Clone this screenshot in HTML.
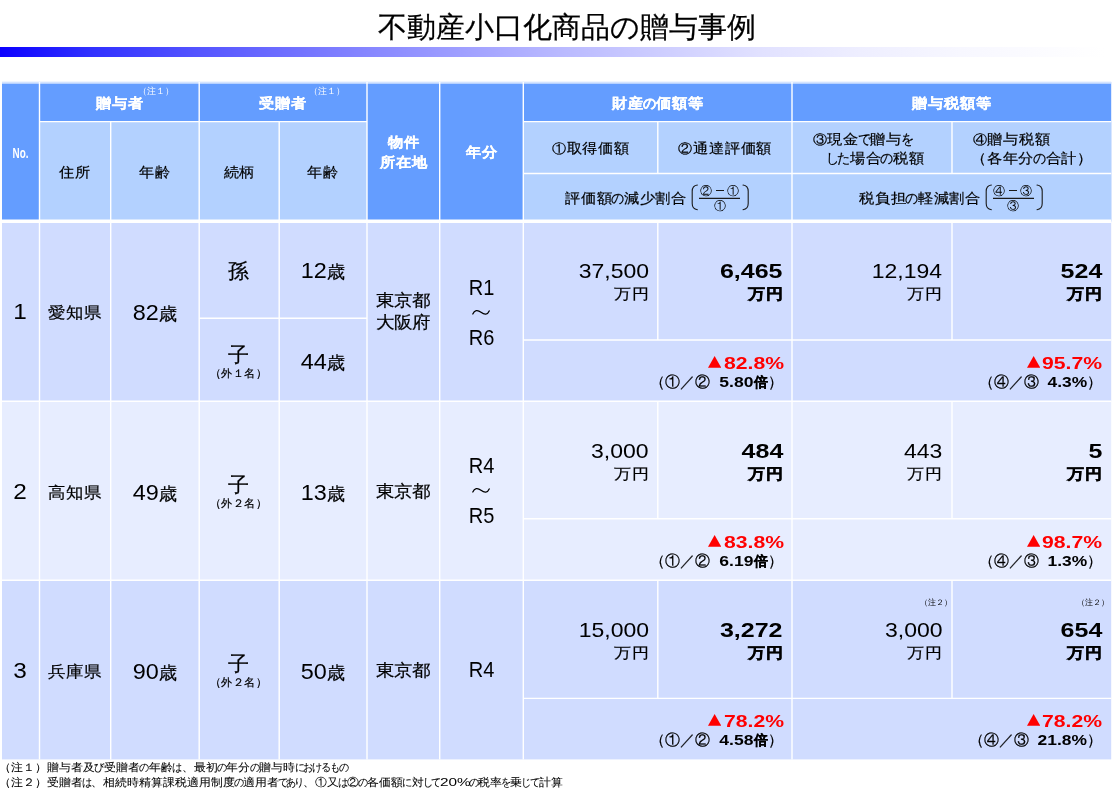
<!DOCTYPE html>
<html lang="ja">
<head>
<meta charset="utf-8">
<title>不動産小口化商品の贈与事例</title>
<style>
html,body{margin:0;padding:0;background:#fff}
body{width:1116px;height:792px;position:relative;overflow:hidden;font-family:"Liberation Sans",sans-serif;color:#000;-webkit-text-stroke:.22px}
#page{position:absolute;left:0;top:0;width:1116px;height:792px;will-change:transform}
#grid{position:absolute;left:0;top:0}
.bar{position:absolute;left:0;top:47px;width:1116px;height:10px;background:linear-gradient(90deg,#0c00ff 0%,#3030ff 8%,#5555ff 17.9%,#8484ff 32.3%,#b9b9ff 50.2%,#e1e1ff 68.1%,#eeeeff 77%,#f7f7ff 86%,#fff 99%)}
.title{position:absolute;left:0;top:9px;width:1134px;text-align:center;font-size:29.35px;line-height:36px;white-space:nowrap}
.c{position:absolute;display:flex;align-items:center;justify-content:center;text-align:center;white-space:nowrap;box-sizing:border-box}
.w{display:block}
.hs .w,.hw .w,.pref .w,.loc .w{transform:scaleY(.92)}
.sx{display:inline-block;-webkit-text-stroke:0}
.hw{padding-top:1.1px;color:#fff;font-weight:bold;font-size:15.5px;line-height:20.65px;-webkit-text-stroke:.22px #fff}
.hs{padding-top:1px;font-size:15.5px;line-height:19.57px;letter-spacing:-.2px}
.hs .k{margin:0 -2.2px}
.cn{display:inline-block;width:15.3px;text-align:center;font-size:14px;letter-spacing:0;vertical-align:.4px}
.k{display:inline-block;transform:scaleX(.86);margin:0 -1.6px}
.sup{-webkit-text-stroke:0;position:absolute;font-size:8.7px;line-height:10px;color:#fff;white-space:nowrap}
.no{font-size:21.3px;padding-top:1.4px;padding-right:1.5px}
.pref{font-size:17.5px}
.age{font-size:21.3px;padding-top:2px}
.age i{font-style:normal;font-size:17.9px}
.rel{font-size:21px;line-height:22px;padding-right:2px}
.rel small{display:block;font-size:10.5px;line-height:14px;letter-spacing:.6px}
.loc{font-size:18px;line-height:23.04px;padding-right:1.6px}
.yr{font-size:21.3px;line-height:24.95px;padding-top:2.4px}
.wv{display:inline-block;vertical-align:4px}
.v{position:absolute;text-align:right;white-space:nowrap;font-size:20.6px;line-height:24px}
.v u{display:block;text-decoration:none;font-size:17.6px;line-height:23px;transform:scaleY(.88);transform-origin:50% 60%;margin-right:-1px;margin-top:-1.2px}
.v.b{font-weight:bold}
.v.b u{-webkit-text-stroke:.45px #000}
.p{-webkit-text-stroke:0;position:absolute;text-align:right;white-space:nowrap;font-size:17.3px;line-height:20px;font-weight:bold;color:#ff0000}
.p .tri{display:inline-block;vertical-align:1.3px;margin-right:2.4px}
.q{position:absolute;text-align:right;white-space:nowrap;font-size:15px;line-height:17px}
.q b{font-size:14.1px;-webkit-text-stroke:.3px #000}
.n2{-webkit-text-stroke:0;position:absolute;text-align:right;font-size:8.2px;line-height:10px;white-space:nowrap}
.fr{position:absolute;width:60px;height:28px}
.fr svg{position:absolute;left:0;top:0}
.fr i{position:absolute;left:0;width:56.2px;text-align:center;font-style:normal;font-size:12px;line-height:13px;white-space:nowrap;-webkit-text-stroke:0}
.fr s{display:inline-block;width:8.1px;height:1.1px;background:#1a1a1a;vertical-align:3.4px;margin:0 3px 0 4px}
.fn{-webkit-text-stroke:.08px;transform:scaleY(.93);transform-origin:0 62%;position:absolute;left:-1px;font-size:11.8px;line-height:15.3px;white-space:nowrap}
.fn .k{margin:0 -1.59px}
.fn2 .k{margin:0 -1.97px}
</style>
</head>
<body>
<div id="page">
<div class="title">不動産小口化商品の贈与事例</div>
<div class="bar"></div>
<svg id="grid" width="1116" height="792" viewBox="0 0 1116 792">
  <rect x="2" y="81.9" width="1109.2" height="139.7" fill="#649dff"/>
  <rect x="39.5" y="121.6" width="327.5" height="100" fill="#b3d1ff"/>
  <rect x="523.3" y="121.6" width="587.9" height="100" fill="#b3d1ff"/>
  <rect x="2" y="221.3" width="1109.2" height="179.7" fill="#d0dcff"/>
  <rect x="2" y="401" width="1109.2" height="179.3" fill="#e7edff"/>
  <rect x="2" y="580.3" width="1109.2" height="179.1" fill="#d0dcff"/>
  <g stroke="#fff" stroke-width="1.4" fill="none">
    <path d="M39.5 82V759.4 M110.7 121.6V759.4 M199.2 82V759.4 M279.2 121.6V759.4 M367 82V759.4 M439.7 82V759.4 M523.3 82V759.4 M792 82V759.4"/>
    <path d="M657.8 121.6V173.5 M657.8 221.3V340 M657.8 401V518.8 M657.8 580.3V698.4"/>
    <path d="M952 121.6V173.5 M952 221.3V340 M952 401V518.8 M952 580.3V698.4"/>
    <path d="M39.5 121.6H367 M523.3 121.6H1111.2 M523.3 173.5H1111.2"/>
    <path d="M199.2 318.2H367 M523.3 340H1111.2 M523.3 518.8H1111.2 M523.3 698.4H1111.2"/>
    <path d="M2 401.3H1111.2 M2 580.3H1111.2"/>
  </g>
  <path d="M2 221.3H1111.2" stroke="#fff" stroke-width="3.4"/>
  <path d="M2 82.85H1111.2" stroke="#fff" stroke-opacity=".72" stroke-width="1.9"/>
</svg>
<!-- header -->
<div class="c hw" style="left:2px;top:84px;width:37px;height:136px;font-size:16.5px;transform:scaleX(.6);padding-top:.6px;-webkit-text-stroke:0"><span class="w">No.</span></div>
<div class="c hw" style="left:40px;top:84px;width:159px;height:37px"><span class="w">贈与者</span></div>
<div class="sup" style="left:138.4px;top:86px">（注１）</div>
<div class="c hw" style="left:200px;top:84px;width:166px;height:37px"><span class="w">受贈者</span></div>
<div class="sup" style="left:308.6px;top:86px">（注１）</div>
<div class="c hs" style="left:40px;top:123px;width:70px;height:97px;padding-top:0.4px"><span class="w">住所</span></div>
<div class="c hs" style="left:111px;top:123px;width:88px;height:97px;padding-top:0.4px"><span class="w">年齢</span></div>
<div class="c hs" style="left:200px;top:123px;width:79px;height:97px;padding-top:0.4px"><span class="w">続柄</span></div>
<div class="c hs" style="left:280px;top:123px;width:86px;height:97px;padding-top:0.4px"><span class="w">年齢</span></div>
<div class="c hw" style="left:368px;top:84px;width:71px;height:136px"><span class="w">物件<br>所在地</span></div>
<div class="c hw" style="left:440px;top:84px;width:83px;height:136px"><span class="w">年分</span></div>
<div class="c hw" style="left:524px;top:84px;width:268px;height:37px"><span class="w">財産<span class="k">の</span>価額等</span></div>
<div class="c hw" style="left:793px;top:84px;width:318px;height:37px"><span class="w">贈与税額等</span></div>
<div class="c hs" style="left:524px;top:123px;width:133px;height:50px"><span class="w"><span class="cn">①</span>取得価額</span></div>
<div class="c hs" style="left:659px;top:123px;width:132px;height:50px"><span class="w"><span class="cn">②</span>通達評価額</span></div>
<div class="c hs" style="left:812px;top:123px;width:120px;height:50px;justify-content:flex-start;text-align:left"><span class="w"><span class="cn">③</span>現金<span class="k">で</span>贈与<span class="k">を</span><br><span style="padding-left:15px"></span><span class="k">し</span><span class="k">た</span>場合<span class="k">の</span>税額</span></div>
<div class="c hs" style="left:972px;top:123px;width:130px;height:50px;justify-content:flex-start;text-align:left"><span class="w"><span class="cn">④</span>贈与税額<br><span style="margin-left:-1px">（各年分<span class="k">の</span>合計）</span></span></div>
<div class="c hs" style="left:565px;top:175px;width:121px;height:44px;justify-content:flex-start"><span class="w">評価額<span class="k">の</span>減少割合</span></div>
<div class="c hs" style="left:859px;top:175px;width:121px;height:44px;justify-content:flex-start"><span class="w">税負担<span class="k">の</span>軽減割合</span></div>
<div class="fr" style="left:691px;top:184px"><svg width="60" height="28" viewBox="0 0 60 28"><g fill="none" stroke="#1a1a1a" stroke-width="1.1" stroke-linecap="round"><path d="M6.4 1C2.6 1.5 1.2 3.2 1.2 7.2V19.6C1.2 23.6 2.6 25.3 6.4 25.8"/><path d="M52 1C55.8 1.5 57.2 3.2 57.2 7.2V19.6C57.2 23.6 55.8 25.3 52 25.8"/><path d="M8 14.4H49" stroke-linecap="butt"/></g></svg><i style="top:.5px">②<s></s>①</i><i style="top:15.6px;width:57.2px">①</i></div>
<div class="fr" style="left:984.8px;top:184px"><svg width="60" height="28" viewBox="0 0 60 28"><g fill="none" stroke="#1a1a1a" stroke-width="1.1" stroke-linecap="round"><path d="M6.4 1C2.6 1.5 1.2 3.2 1.2 7.2V19.6C1.2 23.6 2.6 25.3 6.4 25.8"/><path d="M52 1C55.8 1.5 57.2 3.2 57.2 7.2V19.6C57.2 23.6 55.8 25.3 52 25.8"/><path d="M8 14.4H49" stroke-linecap="butt"/></g></svg><i style="top:.5px">④<s></s>③</i><i style="top:15.6px;width:57.2px">③</i></div>
<!-- row 1 -->
<div class="c no" style="left:2px;top:223px;width:37px;height:178px"><span class="w"><span class="sx" style="transform:scaleX(1.144);transform-origin:50% 50%;margin:0 0.85px">1</span></span></div>
<div class="c pref" style="left:40px;top:223px;width:70px;height:178px"><span class="w">愛知県</span></div>
<div class="c age" style="left:111px;top:223px;width:88px;height:178px"><span class="w"><span class="sx" style="transform:scaleX(1.1);transform-origin:50% 50%;margin:0 1.18px">82</span><i>歳</i></span></div>
<div class="c rel" style="left:200px;top:223px;width:79px;height:95px"><span class="w">孫</span></div>
<div class="c age" style="left:280px;top:223px;width:86px;height:95px"><span class="w"><span class="sx" style="transform:scaleX(1.1);transform-origin:50% 50%;margin:0 1.18px">12</span><i>歳</i></span></div>
<div class="c rel" style="left:200px;top:321px;width:79px;height:82px"><span class="w">子<small>（外１名）</small></span></div>
<div class="c age" style="left:280px;top:320px;width:86px;height:82px"><span class="w"><span class="sx" style="transform:scaleX(1.1);transform-origin:50% 50%;margin:0 1.18px">44</span><i>歳</i></span></div>
<div class="c loc" style="left:368px;top:223px;width:71px;height:178px"><span class="w">東京都<br>大阪府</span></div>
<div class="c yr" style="left:440px;top:223px;width:83px;height:178px"><span class="w"><span class="sx" style="transform:scaleX(0.94);transform-origin:50% 50%;margin:0 -0.82px">R1</span><br><svg class="wv" width="18" height="7" viewBox="0 0 18 7"><path d="M.8 5C2.4 1.3 5.4.5 9 3.3S15.4 6 17.2 1.9" fill="none" stroke="#000" stroke-width="1.25" stroke-linecap="round"/></svg><br><span class="sx" style="transform:scaleX(0.94);transform-origin:50% 50%;margin:0 -0.82px">R6</span></span></div>
<div class="v" style="right:467.4px;top:259px"><span class="sx" style="transform:scaleX(1.116);transform-origin:100% 50%;margin-left:7.31px">37,500</span><u>万円</u></div>
<div class="v b" style="right:333.0px;top:259px"><span class="sx" style="transform:scaleX(1.215);transform-origin:100% 50%;margin-left:11.08px">6,465</span><u>万円</u></div>
<div class="v" style="right:173.7px;top:259px"><span class="sx" style="transform:scaleX(1.116);transform-origin:100% 50%;margin-left:7.31px">12,194</span><u>万円</u></div>
<div class="v b" style="right:13.6px;top:259px"><span class="sx" style="transform:scaleX(1.215);transform-origin:100% 50%;margin-left:7.39px">524</span><u>万円</u></div>
<div class="p" style="right:332.4px;top:353.2px"><svg class="tri" width="13.2" height="11.7" viewBox="0 0 13.2 11.7"><path d="M6.6 0L13.2 11.7H0z" fill="#ff0000"/></svg><span class="sx" style="transform:scaleX(1.225);transform-origin:100% 50%;margin-left:11.04px">82.8%</span></div>
<div class="q" style="right:332.6px;top:372.5px">（①／②<span style="display:inline-block;width:9.3px"></span><b><span class="sx" style="transform:scaleX(1.245);transform-origin:100% 50%;margin-left:6.72px">5.80</span><span style="display:inline-block;width:1.2px"></span>倍</b>）</div>
<div class="p" style="right:13.8px;top:353.2px"><svg class="tri" width="13.2" height="11.7" viewBox="0 0 13.2 11.7"><path d="M6.6 0L13.2 11.7H0z" fill="#ff0000"/></svg><span class="sx" style="transform:scaleX(1.225);transform-origin:100% 50%;margin-left:11.04px">95.7%</span></div>
<div class="q" style="right:13.6px;top:372.5px">（④／③<span style="display:inline-block;width:8.9px"></span><b><span class="sx" style="transform:scaleX(1.235);transform-origin:100% 50%;margin-left:7.55px">4.3%</span></b>）</div>
<!-- row 2 -->
<div class="c no" style="left:2px;top:403px;width:37px;height:178px"><span class="w"><span class="sx" style="transform:scaleX(1.144);transform-origin:50% 50%;margin:0 0.85px">2</span></span></div>
<div class="c pref" style="left:40px;top:403px;width:70px;height:178px"><span class="w">高知県</span></div>
<div class="c age" style="left:111px;top:403px;width:88px;height:178px"><span class="w"><span class="sx" style="transform:scaleX(1.1);transform-origin:50% 50%;margin:0 1.18px">49</span><i>歳</i></span></div>
<div class="c rel" style="left:200px;top:402.5px;width:79px;height:178px"><span class="w">子<small>（外２名）</small></span></div>
<div class="c age" style="left:280px;top:403px;width:86px;height:178px"><span class="w"><span class="sx" style="transform:scaleX(1.1);transform-origin:50% 50%;margin:0 1.18px">13</span><i>歳</i></span></div>
<div class="c loc" style="left:368px;top:403px;width:71px;height:178px"><span class="w">東京都</span></div>
<div class="c yr" style="left:440px;top:401.2px;width:83px;height:178px"><span class="w"><span class="sx" style="transform:scaleX(0.94);transform-origin:50% 50%;margin:0 -0.82px">R4</span><br><svg class="wv" width="18" height="7" viewBox="0 0 18 7"><path d="M.8 5C2.4 1.3 5.4.5 9 3.3S15.4 6 17.2 1.9" fill="none" stroke="#000" stroke-width="1.25" stroke-linecap="round"/></svg><br><span class="sx" style="transform:scaleX(0.94);transform-origin:50% 50%;margin:0 -0.82px">R5</span></span></div>
<div class="v" style="right:467.4px;top:439px"><span class="sx" style="transform:scaleX(1.116);transform-origin:100% 50%;margin-left:5.98px">3,000</span><u>万円</u></div>
<div class="v b" style="right:333.0px;top:439px"><span class="sx" style="transform:scaleX(1.215);transform-origin:100% 50%;margin-left:7.39px">484</span><u>万円</u></div>
<div class="v" style="right:173.7px;top:439px"><span class="sx" style="transform:scaleX(1.116);transform-origin:100% 50%;margin-left:3.99px">443</span><u>万円</u></div>
<div class="v b" style="right:13.6px;top:439px"><span class="sx" style="transform:scaleX(1.215);transform-origin:100% 50%;margin-left:2.46px">5</span><u>万円</u></div>
<div class="p" style="right:332.4px;top:532.4px"><svg class="tri" width="13.2" height="11.7" viewBox="0 0 13.2 11.7"><path d="M6.6 0L13.2 11.7H0z" fill="#ff0000"/></svg><span class="sx" style="transform:scaleX(1.225);transform-origin:100% 50%;margin-left:11.04px">83.8%</span></div>
<div class="q" style="right:332.6px;top:552.0px">（①／②<span style="display:inline-block;width:9.3px"></span><b><span class="sx" style="transform:scaleX(1.245);transform-origin:100% 50%;margin-left:6.72px">6.19</span><span style="display:inline-block;width:1.2px"></span>倍</b>）</div>
<div class="p" style="right:13.8px;top:532.4px"><svg class="tri" width="13.2" height="11.7" viewBox="0 0 13.2 11.7"><path d="M6.6 0L13.2 11.7H0z" fill="#ff0000"/></svg><span class="sx" style="transform:scaleX(1.225);transform-origin:100% 50%;margin-left:11.04px">98.7%</span></div>
<div class="q" style="right:13.6px;top:552.0px">（④／③<span style="display:inline-block;width:8.9px"></span><b><span class="sx" style="transform:scaleX(1.235);transform-origin:100% 50%;margin-left:7.55px">1.3%</span></b>）</div>
<!-- row 3 -->
<div class="c no" style="left:2px;top:582px;width:37px;height:178px"><span class="w"><span class="sx" style="transform:scaleX(1.144);transform-origin:50% 50%;margin:0 0.85px">3</span></span></div>
<div class="c pref" style="left:40px;top:582px;width:70px;height:178px"><span class="w">兵庫県</span></div>
<div class="c age" style="left:111px;top:582px;width:88px;height:178px"><span class="w"><span class="sx" style="transform:scaleX(1.1);transform-origin:50% 50%;margin:0 1.18px">90</span><i>歳</i></span></div>
<div class="c rel" style="left:200px;top:581.5px;width:79px;height:178px"><span class="w">子<small>（外２名）</small></span></div>
<div class="c age" style="left:280px;top:582px;width:86px;height:178px"><span class="w"><span class="sx" style="transform:scaleX(1.1);transform-origin:50% 50%;margin:0 1.18px">50</span><i>歳</i></span></div>
<div class="c loc" style="left:368px;top:582px;width:71px;height:178px"><span class="w">東京都</span></div>
<div class="c yr" style="left:440px;top:580.2px;width:83px;height:178px"><span class="w"><span class="sx" style="transform:scaleX(0.94);transform-origin:50% 50%;margin:0 -0.82px">R4</span></span></div>
<div class="v" style="right:467.4px;top:618px"><span class="sx" style="transform:scaleX(1.116);transform-origin:100% 50%;margin-left:7.31px">15,000</span><u>万円</u></div>
<div class="v b" style="right:333.0px;top:618px"><span class="sx" style="transform:scaleX(1.215);transform-origin:100% 50%;margin-left:11.08px">3,272</span><u>万円</u></div>
<div class="v" style="right:173.7px;top:618px"><span class="sx" style="transform:scaleX(1.116);transform-origin:100% 50%;margin-left:5.98px">3,000</span><u>万円</u></div>
<div class="v b" style="right:13.6px;top:618px"><span class="sx" style="transform:scaleX(1.215);transform-origin:100% 50%;margin-left:7.39px">654</span><u>万円</u></div>
<div class="n2" style="right:163.7px;top:598px">（注２）</div>
<div class="n2" style="right:6.7px;top:598px">（注２）</div>
<div class="p" style="right:332.4px;top:711.0px"><svg class="tri" width="13.2" height="11.7" viewBox="0 0 13.2 11.7"><path d="M6.6 0L13.2 11.7H0z" fill="#ff0000"/></svg><span class="sx" style="transform:scaleX(1.225);transform-origin:100% 50%;margin-left:11.04px">78.2%</span></div>
<div class="q" style="right:332.6px;top:730.8px">（①／②<span style="display:inline-block;width:9.3px"></span><b><span class="sx" style="transform:scaleX(1.245);transform-origin:100% 50%;margin-left:6.72px">4.58</span><span style="display:inline-block;width:1.2px"></span>倍</b>）</div>
<div class="p" style="right:13.8px;top:711.0px"><svg class="tri" width="13.2" height="11.7" viewBox="0 0 13.2 11.7"><path d="M6.6 0L13.2 11.7H0z" fill="#ff0000"/></svg><span class="sx" style="transform:scaleX(1.225);transform-origin:100% 50%;margin-left:11.04px">78.2%</span></div>
<div class="q" style="right:13.6px;top:730.8px">（④／③<span style="display:inline-block;width:8.9px"></span><b><span class="sx" style="transform:scaleX(1.235);transform-origin:100% 50%;margin-left:9.39px">21.8%</span></b>）</div>
<!-- footnotes -->
<div class="fn" style="top:760px">（注１）贈与者及<span class="k">び</span>受贈者<span class="k">の</span>年齢<span class="k">は</span>、最初<span class="k">の</span>年分<span class="k">の</span>贈与時<span class="k">に</span><span class="k">お</span><span class="k">け</span><span class="k">る</span><span class="k">も</span><span class="k">の</span></div>
<div class="fn fn2" style="top:775.3px">（注２）受贈者<span class="k">は</span>、相続時精算課税適用制度<span class="k">の</span>適用者<span class="k">で</span><span class="k">あ</span><span class="k">り</span>、①又<span class="k">は</span>②<span class="k">の</span>各価額<span class="k">に</span>対<span class="k">し</span><span class="k">て</span><span class="sx" style="transform:scaleX(1.3);transform-origin:0 50%;margin-right:7.08px">20%</span><span class="k">の</span>税率<span class="k">を</span>乗<span class="k">じ</span><span class="k">て</span>計算</div>
</div>
</body>
</html>
